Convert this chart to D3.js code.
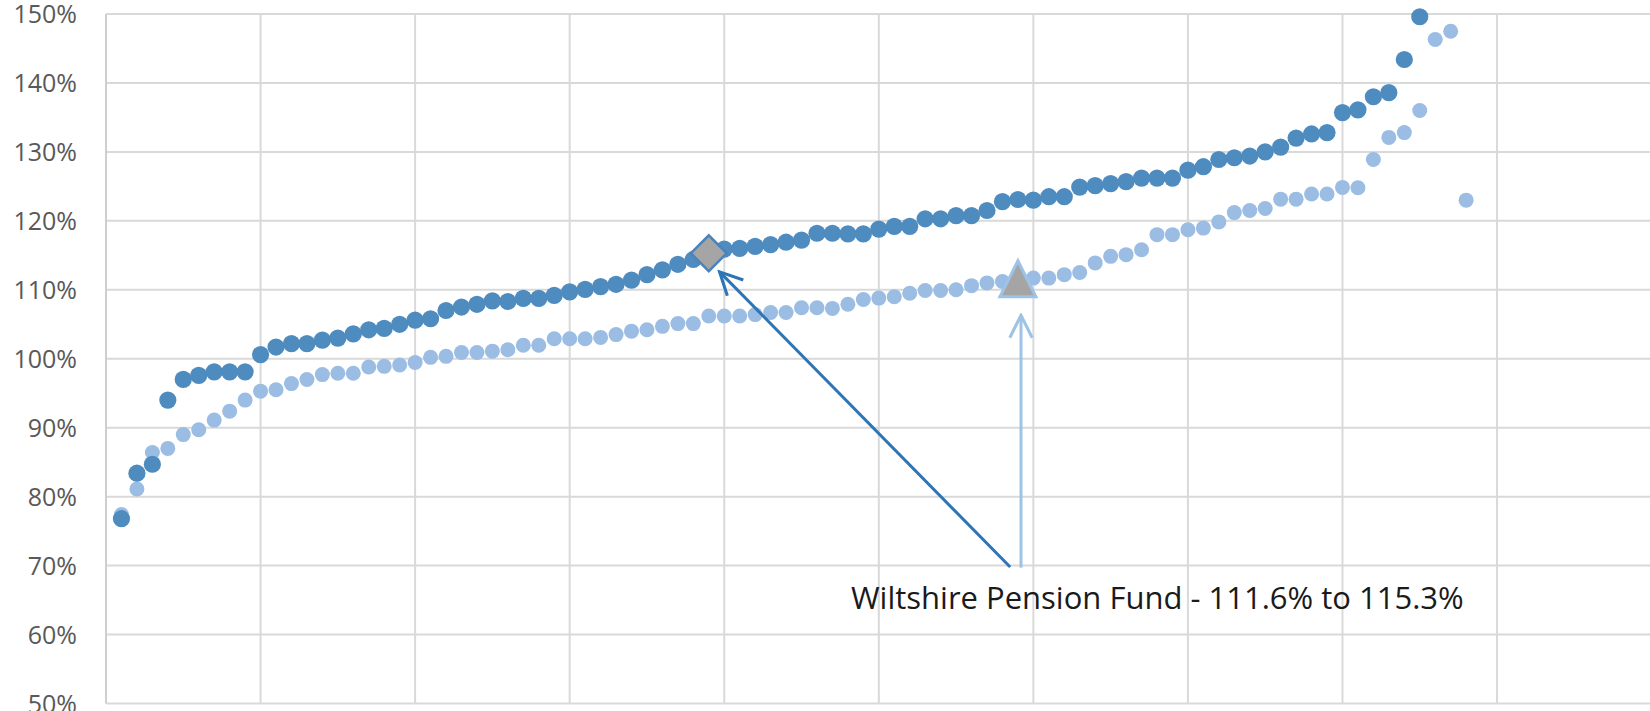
<!DOCTYPE html>
<html>
<head>
<meta charset="utf-8">
<script src="https://cdn.jsdelivr.net/npm/d3@7"></script>
<style>
body{margin:0;background:#fff;}
.main{width:1650px;height:711px;overflow:hidden;}
</style>
</head>
<body>
<div class="main"></div>
<script>
// funding level by fund rank, two valuation bases
var darkValues=[76.8,83.4,84.7,94.0,97.0,97.6,98.1,98.1,98.1,100.6,
  101.7,102.2,102.2,102.7,103.0,103.6,104.2,104.4,105.0,105.6,
  105.8,107.0,107.5,107.9,108.4,108.3,108.75,108.75,109.2,109.7,
  110.05,110.45,110.8,111.4,112.2,112.9,113.7,114.4,115.3,115.9,
  116.0,116.3,116.55,116.9,117.2,118.2,118.2,118.1,118.1,118.8,
  119.2,119.2,120.3,120.3,120.75,120.75,121.5,122.8,123.1,123.0,
  123.5,123.5,124.9,125.1,125.4,125.7,126.2,126.2,126.2,127.35,
  127.85,128.9,129.15,129.4,130.0,130.7,132.0,132.6,132.8,135.7,
  136.1,138.0,138.6,143.4,149.6];
var lightValues=[77.4,81.1,86.4,87.0,89.0,89.7,91.1,92.4,94.0,95.3,
  95.5,96.4,97.0,97.7,97.9,97.9,98.8,98.9,99.1,99.45,
  100.2,100.35,100.9,100.9,101.1,101.3,101.95,101.95,102.9,102.9,
  102.9,103.1,103.5,104.0,104.2,104.7,105.1,105.1,106.2,106.2,
  106.2,106.4,106.7,106.7,107.4,107.4,107.3,107.9,108.6,108.8,
  109.0,109.5,109.9,109.9,110.0,110.6,111.0,111.2,111.6,111.7,
  111.7,112.2,112.5,113.9,114.85,115.1,115.8,118.0,118.0,118.7,
  118.95,119.85,121.2,121.5,121.8,123.15,123.15,123.9,123.9,124.85,
  124.8,128.9,132.1,132.8,136.0,146.3,147.5,123.0];
var yTicks=[50,60,70,80,90,100,110,120,130,140,150];
var xTicks=[0,10,20,30,40,50,60,70,80,90,100];
var highlightRank=[39,59];
var highlightValue=[115.3,111.6];
var labelText='Wiltshire Pension Fund - 111.6% to 115.3%';

var margin={top:14,left:106};
var width=1650,height=711;
var svgContainer=d3.select('.main').append('svg')
    .attr('width',width)
    .attr('height',height);

var x=d3.scaleLinear().domain([0,100]).range([margin.left,margin.left+1545.6]);
var y=d3.scaleLinear().domain([50,150]).range([703.5,margin.top]);

var darkBlue='#4E8BBF', lightBlue='#9BBDE3';

//GRID
svgContainer.append('g')
    .selectAll('line')
    .data(yTicks)
    .enter().append('line')
    .attr('x1',x(0)).attr('x2',x(100))
    .attr('y1',function(d){return y(d);})
    .attr('y2',function(d){return y(d);})
    .style('stroke','#D9D9D9').style('stroke-width',2);

svgContainer.append('g')
    .selectAll('line')
    .data(xTicks)
    .enter().append('line')
    .attr('x1',function(d){return x(d);})
    .attr('x2',function(d){return x(d);})
    .attr('y1',y(150)).attr('y2',y(50))
    .style('stroke',function(d){return d==0?'#CFCFCF':'#D9D9D9';})
    .style('stroke-width',2);

//Y-AXIS
var yAxis=d3.axisLeft(y).tickValues(yTicks).tickSize(0).tickPadding(0)
    .tickFormat(function(d){return d+'%';});
var yAxisGroup=svgContainer.append('g')
    .attr('transform','translate(77,0)')
    .call(yAxis);
yAxisGroup.select('.domain').remove();
yAxisGroup.selectAll('text')
    .attr('dy','0.35em')
    .style('font-family','"Open Sans", "Noto Sans", sans-serif')
    .style('font-size','25px')
    .style('fill','#595959');

// ploting the points
svgContainer.append('g')
    .selectAll('circle')
    .data(lightValues)
    .enter().append('circle')
    .attr('r',7.5)
    .attr('cx',function(d,i){return x(i+1);})
    .attr('cy',function(d){return y(d);})
    .style('fill',lightBlue);

svgContainer.append('g')
    .selectAll('circle')
    .data(darkValues)
    .enter().append('circle')
    .attr('r',8.6)
    .attr('cx',function(d,i){return x(i+1);})
    .attr('cy',function(d){return y(d);})
    .style('fill',darkBlue);

// highlight markers
svgContainer.append('path')
    .attr('d',d3.symbol().type(d3.symbolSquare).size(640)())
    .attr('transform','translate('+x(highlightRank[0])+','+y(highlightValue[0])+') rotate(45)')
    .style('fill','#A5A5A5')
    .style('stroke','#4A84BA')
    .style('stroke-width',2.5);

svgContainer.append('path')
    .attr('d','M0,-18L18,18L-18,18Z')
    .attr('transform','translate('+x(highlightRank[1])+','+y(highlightValue[1])+')')
    .style('fill','#A5A5A5')
    .style('stroke','#9DC3E6')
    .style('stroke-width',3);

// arrows
var defs=svgContainer.append('defs');
function arrowHead(id,color){
  defs.append('marker')
    .attr('id',id)
    .attr('viewBox','0 0 10 10')
    .attr('refX',9).attr('refY',5)
    .attr('markerUnits','userSpaceOnUse')
    .attr('orient','auto')
    .attr('markerWidth',28).attr('markerHeight',28)
    .append('path')
    .attr('d','M1,1 L9,5 L1,9')
    .style('fill','none')
    .style('stroke',color)
    .style('stroke-width',1.1);
}
arrowHead('arrowDark','#2E75B6');
arrowHead('arrowLight','#9DC3E6');

svgContainer.append('line')
    .attr('x1',x(58.5)).attr('y1',y(69.8))
    .attr('x2',x(39.7)).attr('y2',y(112.6))
    .style('stroke','#2E75B6').style('stroke-width',3)
    .attr('marker-end','url(#arrowDark)');

svgContainer.append('line')
    .attr('x1',x(59.2)).attr('y1',y(69.7))
    .attr('x2',x(59.2)).attr('y2',y(106.3))
    .style('stroke','#9DC3E6').style('stroke-width',3)
    .attr('marker-end','url(#arrowLight)');

svgContainer.append('text')
    .attr('x',x(48.2))
    .attr('y',y(63.7))
    .style('font-family','"Open Sans", "Noto Sans", sans-serif')
    .style('font-size','31px')
    .style('fill','#1A1A1A')
    .text(labelText);
</script>
</body>
</html>
